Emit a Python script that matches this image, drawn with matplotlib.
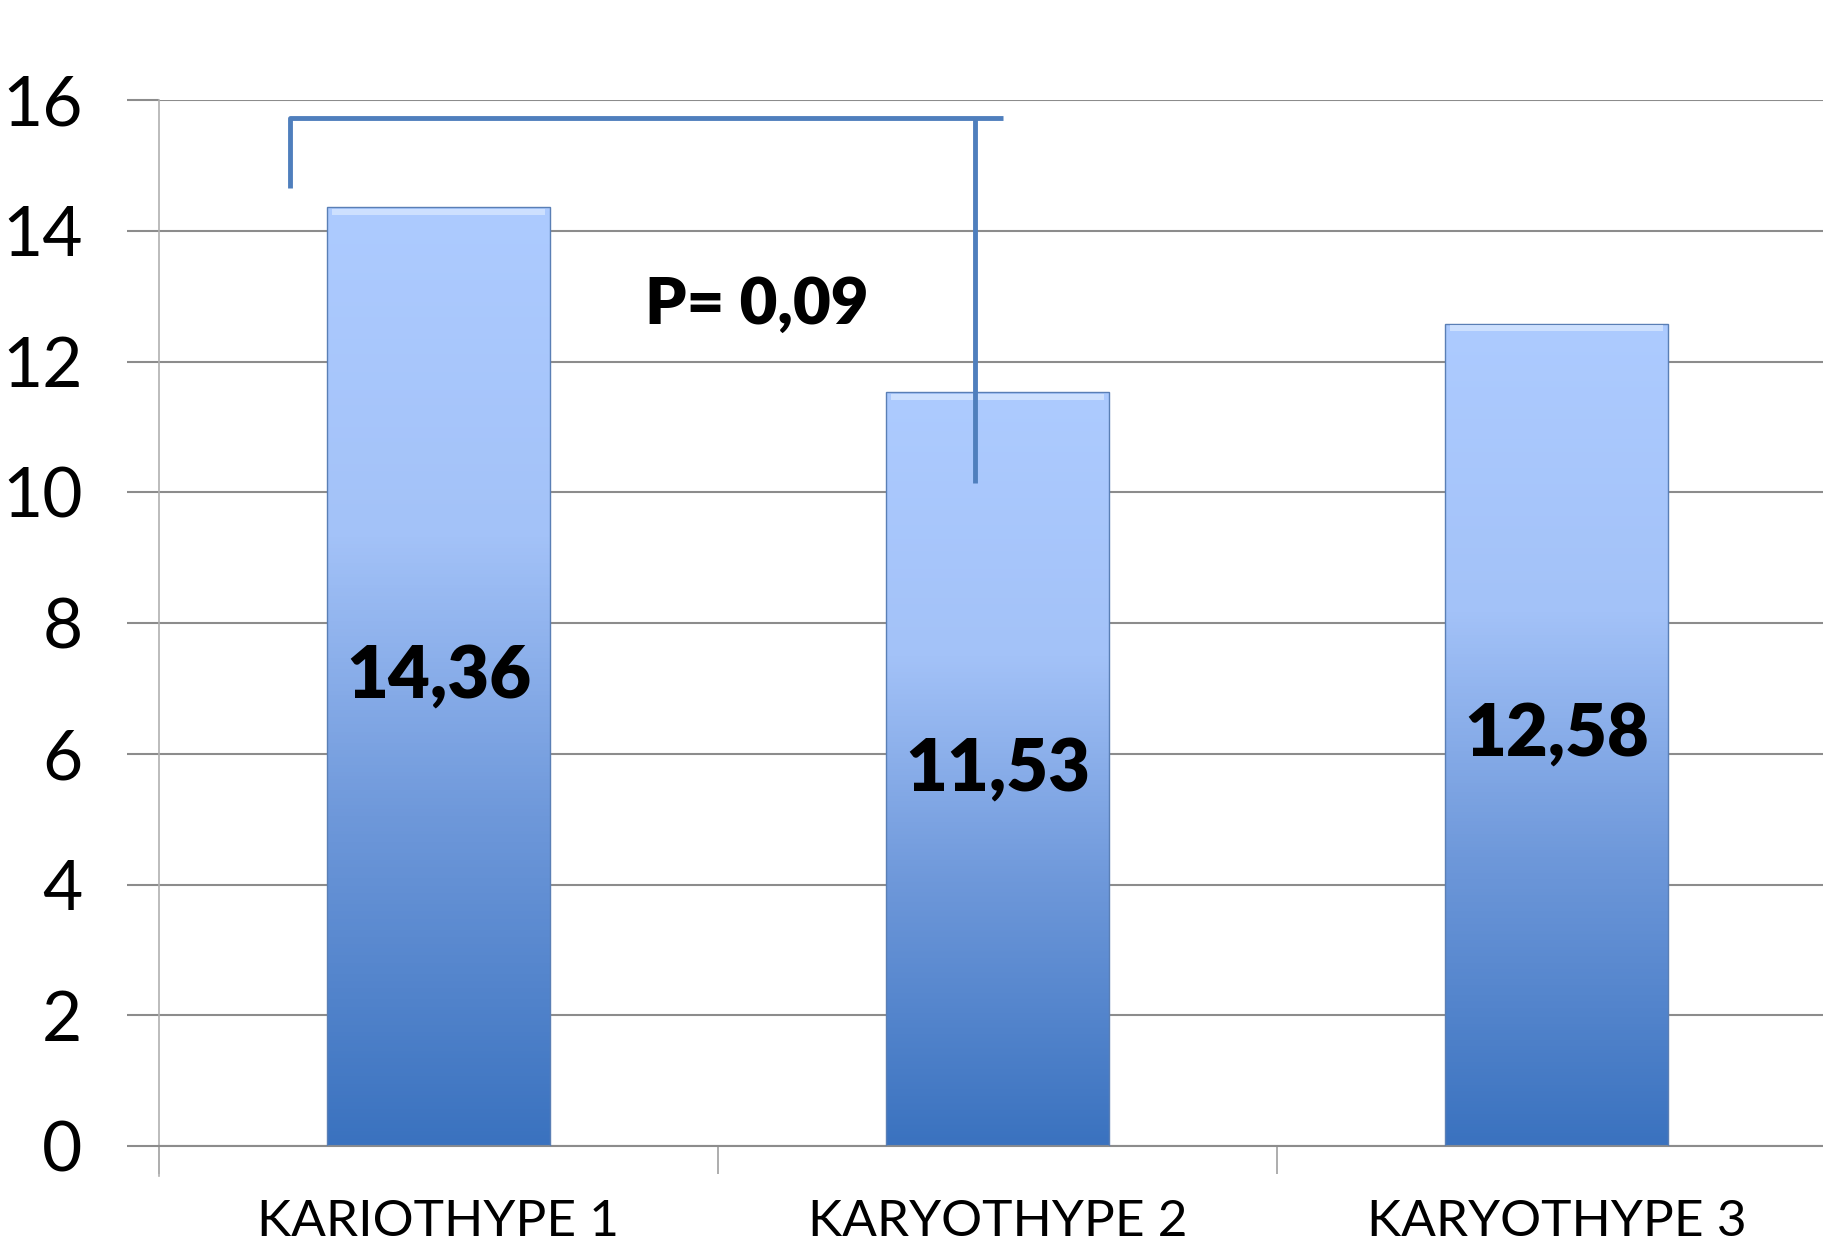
import numpy as np
import matplotlib.pyplot as plt
from matplotlib.colors import LinearSegmentedColormap

categories = ['KARIOTHYPE 1', 'KARYOTHYPE 2', 'KARYOTHYPE 3']
values = [14.36, 11.53, 12.58]
value_labels = ['14,36', '11,53', '12,58']
p_label = 'P= 0,09'

plt.rcParams['font.family'] = ['Lato', 'DejaVu Sans']

fig = plt.figure(figsize=(18.24, 12.57), dpi=100)
ax = fig.add_axes([159 / 1824, 1 - 1146 / 1257, (1836 - 159) / 1824, (1146 - 100) / 1257])

x = np.arange(len(categories))
ax.set_xlim(-0.5, 2.5)
ax.set_ylim(0, 16)

# vertical blue gradient, light at the top
cmap = LinearSegmentedColormap.from_list(
    'bar', [(0.0, '#3a72bf'), (0.35, '#6e98da'), (0.65, '#a3c2f8'), (1.0, '#adcbff')])

bars = ax.bar(x, values, width=0.4, color='none', edgecolor='#5a7fb5', linewidth=1.0, zorder=3)
for b in bars:
    x0, w, h = b.get_x(), b.get_width(), b.get_height()
    grad = np.linspace(0, 1, 256).reshape(-1, 1)
    im = ax.imshow(grad, cmap=cmap, origin='lower', aspect='auto',
                   extent=(x0, x0 + w, 0, h), zorder=2, vmin=0, vmax=1)
    im.set_clip_path(b)
    # bevel highlight along the top edge
    ax.fill_between([x0 + 0.01, x0 + w - 0.01], h - 0.12, h - 0.02,
                    color='#d6e6ff', alpha=0.8, zorder=3, linewidth=0)

for xi, v, lab in zip(x, values, value_labels):
    ax.text(xi, v / 2, lab, ha='center', va='center', fontsize=52,
            fontweight='heavy', color='black', zorder=4)

# significance bracket between the first two groups
bracket = '#4f7fbd'
ax.plot([-0.265, -0.265, 1.01], [14.66, 15.73, 15.73], color=bracket, lw=3.5,
        solid_capstyle='butt', zorder=5)
ax.plot([0.96, 0.96], [15.73, 10.14], color=bracket, lw=3.5,
        solid_capstyle='butt', zorder=5)
ax.text(0.57, 12.86, p_label, ha='center', va='center', fontsize=47,
        fontweight='heavy', color='black', zorder=5)

ax.set_yticks(range(0, 17, 2))
ax.yaxis.grid(True, color='#8c8c8c', linewidth=1.5)
ax.set_axisbelow(True)
ax.tick_params(axis='y', length=23, width=1.5, color='#8c8c8c', labelsize=50, pad=32)

ax.set_xticks(x)
ax.set_xticklabels(categories)
ax.set_xticks([-0.5, 0.5, 1.5], minor=True)
ax.tick_params(axis='x', which='major', length=0, labelsize=37, pad=38)
ax.tick_params(axis='x', which='minor', length=20, width=1.2, color='#a0a0a0')

for s in ['top', 'right']:
    ax.spines[s].set_visible(False)
ax.spines['left'].set_color('#b0b0b0')
ax.spines['left'].set_linewidth(1.2)
ax.spines['bottom'].set_color('#8c8c8c')
ax.spines['bottom'].set_linewidth(1.5)
ax.spines['left'].set_bounds(-1.5 / 65.4 * 20, 16)

fig.savefig('out.png', dpi=100)
